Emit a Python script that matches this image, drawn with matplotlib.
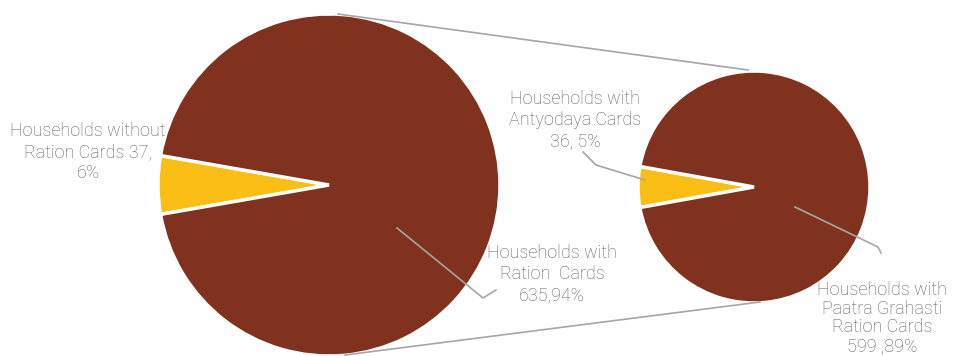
import matplotlib
matplotlib.use("Agg")
import matplotlib.pyplot as plt

# Data
main_labels = ["Households without\nRation Cards 37,\n6%", "Households with\nRation  Cards\n635,94%"]
main_values = [37, 635]
sub_labels = ["Households with\nAntyodaya Cards\n36, 5%", "Households with\nPaatra Grahasti\nRation Cards\n599 ,89%"]
sub_values = [36, 599]

YELLOW = "#FABE14"
BROWN = "#80321E"
GRAY_TXT = "#5E5E5E"
GRAY_LINE = "#A6A6A6"

W, H = 955, 356
fig = plt.figure(figsize=(W / 100, H / 100), dpi=100)
ax = fig.add_axes([0, 0, 1, 1])

def Y(py):
    return H - py

# Main pie
c1 = (329, Y(185)); r1 = 171
start1 = 180 - main_values[0] / sum(main_values) * 180
ax.pie(main_values, colors=[YELLOW, BROWN], startangle=start1, counterclock=True,
       center=c1, radius=r1, frame=True,
       wedgeprops=dict(edgecolor="white", linewidth=2.5))

# Sub pie
c2 = (754, Y(187)); r2 = 116
start2 = 180 - sub_values[0] / sum(sub_values) * 180
ax.pie(sub_values, colors=[YELLOW, BROWN], startangle=start2, counterclock=True,
       center=c2, radius=r2, frame=True,
       wedgeprops=dict(edgecolor="white", linewidth=2.5))

ax.set_xlim(0, W)
ax.set_ylim(0, H)
ax.set_aspect("equal")
ax.axis("off")

# Connector lines between pies
ax.plot([338, 748], [Y(14), Y(70)], color=GRAY_LINE, lw=1.2)
ax.plot([345, 760], [Y(355), Y(302)], color=GRAY_LINE, lw=1.2)

# Leader lines
ax.plot([397, 483, 496], [Y(228), Y(298), Y(290)], color=GRAY_LINE, lw=1.2)
ax.plot([583, 596, 645], [Y(152), Y(165), Y(180)], color=GRAY_LINE, lw=1.2)
ax.plot([795, 878, 881], [Y(207), Y(247), Y(253)], color=GRAY_LINE, lw=1.2)

font = dict(family=["Roboto", "DejaVu Sans"], fontweight="light", color=GRAY_TXT,
            fontsize=13, ha="center", va="center", linespacing=1.2)

ax.text(88, Y(152), main_labels[0], **font)
ax.text(552, Y(274), main_labels[1], **font)
ax.text(575, Y(120), sub_labels[0], **font)
ax.text(882, Y(318), sub_labels[1], **dict(font, linespacing=1.05))

fig.savefig("out.png", dpi=100)
